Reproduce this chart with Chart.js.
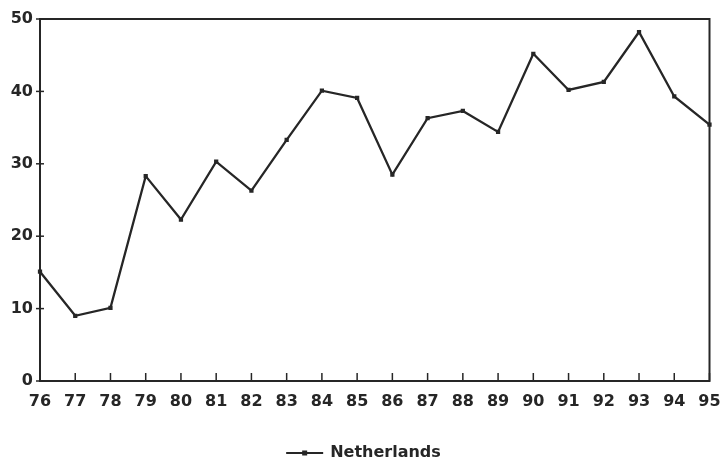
<!DOCTYPE html>
<html>
<head>
<meta charset="utf-8">
<script src="https://cdn.jsdelivr.net/npm/chart.js@4/dist/chart.umd.min.js"></script>
<style>
  html, body { margin: 0; padding: 0; background: #fff; }
  #wrap { width: 723px; height: 462px; position: relative; }
</style>
</head>
<body>
<div id="wrap"><canvas id="c" width="723" height="462"></canvas></div>
<script>
// Years (two-digit) along the horizontal axis
const years = ['76','77','78','79','80','81','82','83','84','85',
               '86','87','88','89','90','91','92','93','94','95'];
// Series values
const netherlands = [15.1, 9.0, 10.1, 28.3, 22.3, 30.3, 26.3, 33.3, 40.1, 39.1,
                     28.5, 36.3, 37.3, 34.4, 45.2, 40.2, 41.3, 48.2, 39.3, 35.4];
const seriesName = 'Netherlands';
// Value-axis ticks
const yTicks = [0, 10, 20, 30, 40, 50];

const INK = '#262626';
const FONT = { family: '"DejaVu Sans", sans-serif', size: 16, weight: 'bold' };

// Frame, inward tick marks and the bottom legend
const decor = {
  id: 'decor',
  afterDraw(chart) {
    const { ctx, chartArea: a, scales } = chart;
    ctx.save();
    ctx.strokeStyle = INK;
    ctx.lineWidth = 2;
    ctx.strokeRect(a.left, a.top, a.right - a.left, a.bottom - a.top);

    // x ticks pointing up into the plot
    ctx.lineWidth = 1.5;
    years.forEach((y, i) => {
      const px = scales.x.getPixelForValue(i);
      ctx.beginPath();
      ctx.moveTo(px, a.bottom);
      ctx.lineTo(px, a.bottom - 8);
      ctx.stroke();
    });
    // y ticks across the left axis
    yTicks.forEach(v => {
      const py = scales.y.getPixelForValue(v);
      ctx.beginPath();
      ctx.moveTo(a.left - 4, py);
      ctx.lineTo(a.left + 4, py);
      ctx.stroke();
    });

    // legend: line with marker, then the series name
    ctx.font = `${FONT.weight} ${FONT.size}px ${FONT.family}`;
    const tw = ctx.measureText(seriesName).width;
    const lineW = 37, gap = 7;
    const total = lineW + gap + tw;
    const x0 = chart.width / 2 - total / 2 + 2;
    const ly = 453;
    ctx.lineWidth = 2;
    ctx.beginPath();
    ctx.moveTo(x0, ly);
    ctx.lineTo(x0 + lineW, ly);
    ctx.stroke();
    ctx.fillStyle = INK;
    ctx.fillRect(x0 + lineW / 2 - 2.5, ly - 2.5, 5, 5);
    ctx.textBaseline = 'middle';
    ctx.textAlign = 'left';
    ctx.fillText(seriesName, x0 + lineW + gap, ly);
    ctx.restore();
  }
};

new Chart(document.getElementById('c'), {
  type: 'line',
  data: {
    labels: years,
    datasets: [{
      label: seriesName,
      data: netherlands,
      borderColor: INK,
      backgroundColor: INK,
      borderWidth: 2.3,
      tension: 0,
      pointStyle: 'rect',
      pointRadius: 3,
      pointBorderWidth: 0,
      pointBackgroundColor: INK
    }]
  },
  options: {
    responsive: false,
    animation: false,
    devicePixelRatio: 1,
    layout: { padding: { top: 19, right: 13.5, left: 0, bottom: 0 } },
    plugins: { legend: { display: false }, tooltip: { enabled: false } },
    scales: {
      x: {
        type: 'category',
        offset: false,
        grid: { display: false, drawTicks: false },
        border: { display: false },
        ticks: {
          color: INK, font: FONT, padding: 11,
          autoSkip: false, maxRotation: 0, minRotation: 0
        },
        afterFit(s) { s.height = 81; s.paddingLeft = 0; s.paddingRight = 0; }
      },
      y: {
        min: 0, max: 50,
        grid: { display: false, drawTicks: false },
        border: { display: false },
        ticks: {
          stepSize: 10, color: INK, font: FONT, padding: 7
        },
        afterFit(s) { s.width = 40; s.paddingTop = 0; s.paddingBottom = 0; }
      }
    }
  },
  plugins: [decor]
});
</script>
</body>
</html>
